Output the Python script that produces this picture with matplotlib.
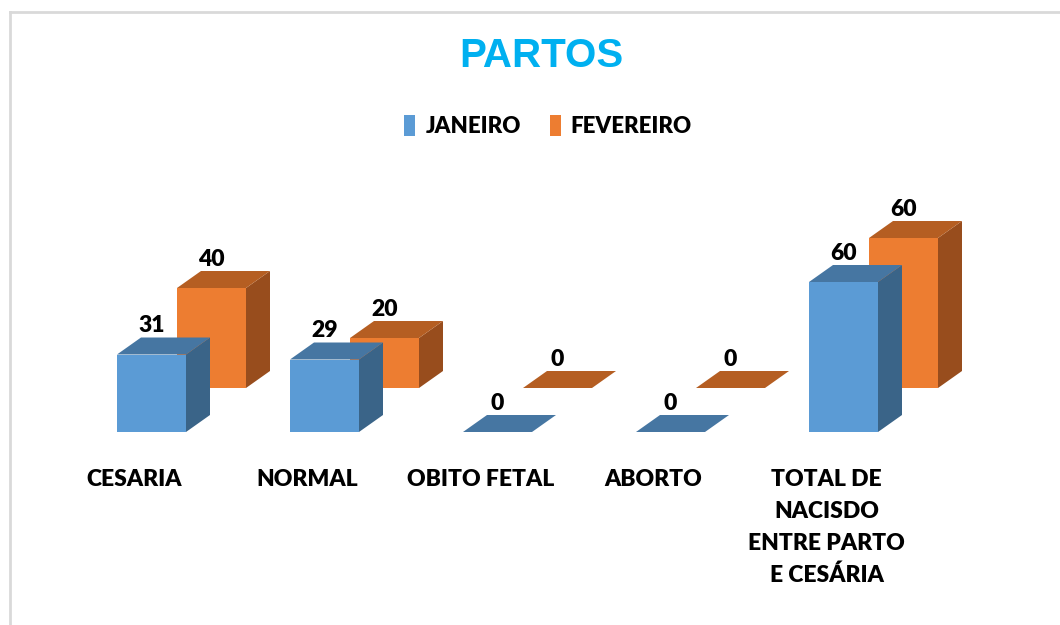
import matplotlib
matplotlib.use("Agg")
import matplotlib.pyplot as plt
from matplotlib.patches import Polygon, Patch
from matplotlib.lines import Line2D

categories = ["CESARIA", "NORMAL", "OBITO FETAL", "ABORTO",
              "TOTAL DE\nNACISDO\nENTRE PARTO\nE CESÁRIA"]
series_names = ["JANEIRO", "FEVEREIRO"]
janeiro = [31, 29, 0, 0, 60]
fevereiro = [40, 20, 0, 0, 60]

# colours: front, top, side
blue = ("#5B9BD5", "#4676A2", "#3A6488")
orange = ("#ED7D31", "#B55E22", "#984D1D")

W, H = 1060, 625
PX_CAT = 173.0      # pixels per category
PX_VAL = 2.5        # pixels per value unit
bar_w = 69 / PX_CAT
depth_x = 24 / PX_CAT
depth_y = 17 / PX_VAL
shift_x = 60 / PX_CAT   # second series sits behind the first
shift_y = 44 / PX_VAL

fig = plt.figure(figsize=(W / 100, H / 100), dpi=100)
ax = fig.add_axes([0, 0, 1, 1])
ax.set_xlim(-151.5 / PX_CAT, (W - 151.5) / PX_CAT)
ax.set_ylim(-193 / PX_VAL, (H - 193) / PX_VAL)
ax.axis("off")


def draw_bar(xc, base, h, colors, z):
    front, top, side = colors
    x0, x1 = xc - bar_w / 2, xc + bar_w / 2
    if h > 0:
        ax.bar(xc, h, bar_w, bottom=base, color=front, linewidth=0, zorder=z)
        ax.add_patch(Polygon([(x1, base), (x1 + depth_x, base + depth_y),
                              (x1 + depth_x, base + h + depth_y), (x1, base + h)],
                             closed=True, facecolor=side, linewidth=0, zorder=z))
    ax.add_patch(Polygon([(x0, base + h), (x1, base + h),
                          (x1 + depth_x, base + h + depth_y),
                          (x0 + depth_x, base + h + depth_y)],
                         closed=True, facecolor=top, linewidth=0, zorder=z))


label_font = dict(family=["Lato", "DejaVu Sans"], weight=800)

# back series first, front series on top
for i, v in enumerate(fevereiro):
    xc = i + shift_x
    draw_bar(xc, shift_y, v, orange, 1)
    ax.text(xc, shift_y + v + depth_y + 0.6, str(v), ha="center", va="bottom",
            fontsize=16.5, zorder=5, **label_font)
for i, v in enumerate(janeiro):
    draw_bar(i, 0, v, blue, 2)
    ax.text(i, v + depth_y + 0.6, str(v), ha="center", va="bottom",
            fontsize=16.5, zorder=5, **label_font)

for i, c in enumerate(categories):
    ax.text(i - 17 / PX_CAT, -15, c, ha="center", va="top", fontsize=16.5,
            linespacing=1.62, **label_font)

fig.text(541 / W, 1 - 56 / H, "PARTOS", ha="center", va="center",
         fontsize=29, color="#00B0F0", weight="bold",
         family=["Liberation Sans", "DejaVu Sans"])

handles = [Patch(facecolor=blue[0]), Patch(facecolor=orange[0])]
fig.legend(handles, series_names, loc="center", ncol=2, frameon=False,
           bbox_to_anchor=(548 / W, 1 - 126 / H), handlelength=0.5,
           handleheight=1.1, handletextpad=0.45, columnspacing=1.3,
           prop=dict(family=["Lato", "DejaVu Sans"], weight=800, size=16))

# light chart border (top and left edges visible)
fig.add_artist(Line2D([10 / W, 10 / W], [0, 1 - 12 / H], transform=fig.transFigure,
                      color="#D9D9D9", linewidth=2))
fig.add_artist(Line2D([10 / W, 1], [1 - 12 / H, 1 - 12 / H], transform=fig.transFigure,
                      color="#D9D9D9", linewidth=2))

fig.savefig("out.png", dpi=100)
